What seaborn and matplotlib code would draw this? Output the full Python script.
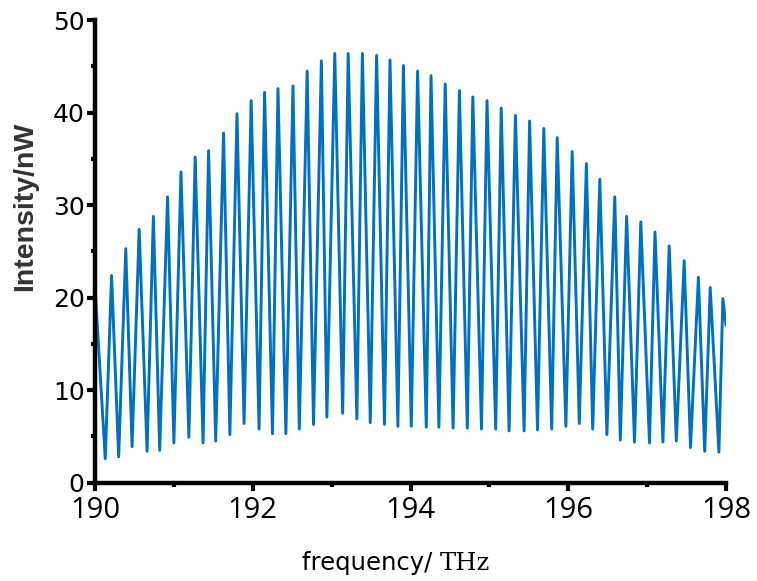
import matplotlib
matplotlib.use("Agg")
import matplotlib.pyplot as plt
from matplotlib.ticker import MultipleLocator
import seaborn as sns
import pandas as pd

# ---- data ----
start_freq = [190.0]
start_int = [21.2]
end_freq = [198.0]
end_int = [17.0]

peak_freq = [190.21, 190.39, 190.56, 190.74, 190.92, 191.09, 191.27, 191.44, 191.63, 191.80,
             191.98, 192.15, 192.32, 192.51, 192.69, 192.87, 193.04, 193.21, 193.39, 193.57,
             193.74, 193.91, 194.09, 194.26, 194.44, 194.62, 194.79, 194.97, 195.15, 195.33,
             195.51, 195.69, 195.86, 196.05, 196.23, 196.40, 196.59, 196.74, 196.92, 197.10,
             197.28, 197.47, 197.65, 197.80, 197.96]
peak_int = [22.4, 25.3, 27.4, 28.8, 30.9, 33.6, 35.2, 35.9, 37.8, 39.9,
            41.3, 42.2, 42.6, 42.9, 44.5, 45.6, 46.4, 46.4, 46.4, 46.2,
            45.7, 45.1, 44.5, 44.0, 43.1, 42.4, 41.7, 41.3, 40.5, 39.7,
            39.1, 38.3, 37.3, 35.8, 34.5, 32.8, 30.9, 28.8, 28.2, 27.1,
            25.6, 24.0, 22.2, 21.1, 19.9]

trough_freq = [190.13, 190.30, 190.47, 190.66, 190.82, 191.00, 191.19, 191.37, 191.53, 191.71,
               191.89, 192.08, 192.25, 192.42, 192.59, 192.77, 192.94, 193.14, 193.32, 193.49,
               193.67, 193.84, 194.01, 194.20, 194.36, 194.54, 194.72, 194.90, 195.08, 195.25,
               195.44, 195.61, 195.79, 195.97, 196.14, 196.31, 196.49, 196.66, 196.84, 197.03,
               197.20, 197.37, 197.55, 197.73, 197.91]
trough_int = [2.6, 2.8, 3.9, 3.4, 3.5, 4.3, 4.9, 4.3, 4.5, 5.2,
              6.4, 5.8, 5.3, 5.3, 5.8, 6.3, 7.1, 7.5, 6.9, 6.5,
              6.3, 6.1, 6.1, 6.0, 6.0, 5.9, 5.9, 5.8, 5.8, 5.6,
              5.6, 5.7, 5.8, 6.1, 6.4, 5.8, 5.2, 4.6, 4.4, 4.3,
              4.4, 4.5, 3.8, 3.4, 3.3]

x_ticks = [190, 192, 194, 196, 198]
y_ticks = [0, 10, 20, 30, 40, 50]

df = pd.DataFrame({
    "freq": start_freq + peak_freq + trough_freq + end_freq,
    "intensity": start_int + peak_int + trough_int + end_int,
}).sort_values("freq").reset_index(drop=True)

sns.set_theme(style="ticks")
plt.rcParams["font.family"] = ["DejaVu Sans"]

fig = plt.figure(figsize=(7.57, 5.81), dpi=100)
ax = fig.add_axes([95 / 757, 1 - 482.7 / 581, 631 / 757, 462.5 / 581])

sns.lineplot(data=df, x="freq", y="intensity", ax=ax, color="#0070C0",
             linewidth=2.1, sort=True, estimator=None)

ax.set_xlim(190, 198)
ax.set_ylim(0, 50)
ax.set_xticks(x_ticks)
ax.set_yticks(y_ticks)
ax.xaxis.set_minor_locator(MultipleLocator(1))
ax.yaxis.set_minor_locator(MultipleLocator(5))
ax.set_xticklabels([str(v) for v in x_ticks], fontfamily="Open Sans", fontsize=21)
ax.set_yticklabels([str(v) for v in y_ticks], fontfamily="DejaVu Sans", fontsize=18)

for side in ["top", "right"]:
    ax.spines[side].set_visible(False)
for side in ["left", "bottom"]:
    ax.spines[side].set_linewidth(3.2)
    ax.spines[side].set_color("black")

ax.tick_params(axis="both", which="major", direction="out", length=5.5, width=3.0,
               color="black", labelcolor="black")
ax.tick_params(axis="both", which="minor", direction="out", length=3.0, width=3.0,
               color="black")
ax.tick_params(axis="x", which="major", pad=4)
ax.tick_params(axis="y", which="major", pad=2)
ax.set_xlabel("")
ax.set_ylabel("")

# y label
fig.text(25 / 757, 1 - 206 / 581, "Intensity/nW", rotation=90, ha="center", va="center",
         fontfamily="Liberation Sans", fontweight="bold", fontsize=20.5, color="#333333")

# x label: sans part + serif part
fig.text(440 / 757, 1 - 570 / 581, "frequency/ ", ha="right", va="baseline",
         fontfamily="DejaVu Sans", fontsize=17.5, color="black")
fig.text(440 / 757, 1 - 570 / 581, "THz", ha="left", va="baseline",
         fontfamily="DejaVu Serif", fontsize=17.5, color="black")

fig.savefig("out.png", dpi=100)
